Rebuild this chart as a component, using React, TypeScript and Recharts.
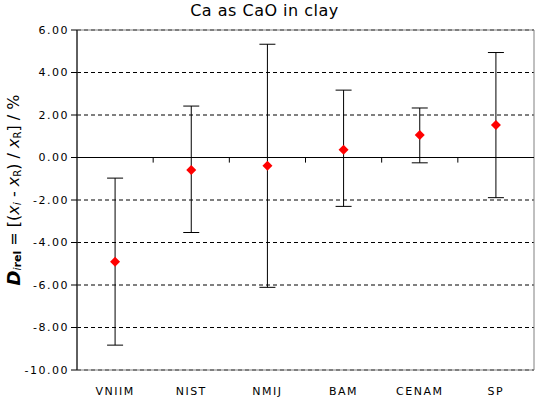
import { ComposedChart, Scatter, ErrorBar, XAxis, YAxis, CartesianGrid, ReferenceLine, ReferenceArea } from 'recharts'

const labs = ['VNIIM', 'NIST', 'NMIJ', 'BAM', 'CENAM', 'SP']
const values = [-4.91, -0.59, -0.39, 0.36, 1.06, 1.53]
const upper = [-0.97, 2.42, 5.33, 3.17, 2.33, 4.94]
const lower = [-8.83, -3.53, -6.11, -2.3, -0.25, -1.89]
const yTicks = [-10, -8, -6, -4, -2, 0, 2, 4, 6]
const xTicks = labs.map((_, i) => i + 0.5)
const bounds = [1, 2, 3, 4, 5]

const data = labs.map((lab, i) => ({
  x: i + 0.5,
  lab,
  d: values[i],
  err: [values[i] - lower[i], upper[i] - values[i]],
}))

const font = '"DejaVu Sans", Verdana, sans-serif'

function Diamond(props: any) {
  const { cx, cy } = props
  if (cx == null || cy == null) return null
  const r = 5
  return <polygon points={`${cx},${cy - r} ${cx + r},${cy} ${cx},${cy + r} ${cx - r},${cy}`} fill="#ff0000" />
}

function YLabel(props: any) {
  const vb = props.viewBox || {}
  const cx = 13
  const cy = vb.y + vb.height / 2 - 10
  return (
    <text
      x={cx}
      y={cy}
      transform={`rotate(-90, ${cx}, ${cy})`}
      textAnchor="middle"
      dominantBaseline="central"
      fontFamily={font}
      fontSize={16}
      fill="#000"
    >
      <tspan fontStyle="italic" fontWeight="bold" fontSize={18}>D</tspan>
      <tspan fontStyle="italic" fontSize={11} dy={4}>i</tspan>
      <tspan fontWeight="bold" fontSize={11}>rel</tspan>
      <tspan dy={-4}> = [(</tspan>
      <tspan fontStyle="italic">x</tspan>
      <tspan fontStyle="italic" fontSize={11} dy={4}>i</tspan>
      <tspan dy={-4}> - </tspan>
      <tspan fontStyle="italic">x</tspan>
      <tspan fontSize={10} dy={4}>R</tspan>
      <tspan dy={-4}>) / </tspan>
      <tspan fontStyle="italic">x</tspan>
      <tspan fontSize={10} dy={4}>R</tspan>
      <tspan dy={-4}>] / %</tspan>
    </text>
  )
}

export default function App() {
  return (
    <div style={{ position: 'absolute', left: 0, top: 0, width: 535, height: 399, background: '#fff', fontFamily: font }}>
      <div
        style={{
          position: 'absolute',
          left: -3,
          top: 1,
          width: 535,
          textAlign: 'center',
          fontSize: 16,
          letterSpacing: 0.5,
          color: '#000',
        }}
      >
        Ca as CaO in clay
      </div>
      <ComposedChart width={535} height={399} data={data} margin={{ top: 30, right: 1, bottom: 0, left: 0 }}>
        <CartesianGrid horizontal vertical={false} stroke="#000" strokeDasharray="4 3" />
        <ReferenceArea x1={0} x2={6} y1={-10} y2={6} fill="none" stroke="#808080" ifOverflow="visible" />
        <XAxis
          dataKey="x"
          type="number"
          domain={[0, 6]}
          ticks={xTicks}
          tickFormatter={(v: number) => labs[Math.floor(v)]}
          axisLine={false}
          tickLine={false}
          tickMargin={11}
          height={29}
          interval={0}
          tick={{ fill: '#000', fontSize: 11, letterSpacing: 1.5, fontFamily: font }}
        />
        <YAxis
          type="number"
          domain={[-10, 6]}
          ticks={yTicks}
          interval={0}
          width={77}
          tickFormatter={(v: number) => v.toFixed(2)}
          axisLine={{ stroke: '#000' }}
          tickLine={{ stroke: '#000' }}
          tickSize={6}
          tick={{ fill: '#000', fontSize: 11, letterSpacing: 1.5, fontFamily: font }}
          label={{ content: (p: any) => <YLabel {...p} /> }}
        />
        <ReferenceLine y={0} stroke="#000" />
        {bounds.map((b) => (
          <ReferenceLine key={b} segment={[{ x: b, y: 0 }, { x: b, y: -0.24 }]} stroke="#000" />
        ))}
        <Scatter dataKey="d" shape={<Diamond />} isAnimationActive={false}>
          <ErrorBar dataKey="err" direction="y" width={8} stroke="#000" strokeWidth={1} />
        </Scatter>
      </ComposedChart>
    </div>
  )
}
